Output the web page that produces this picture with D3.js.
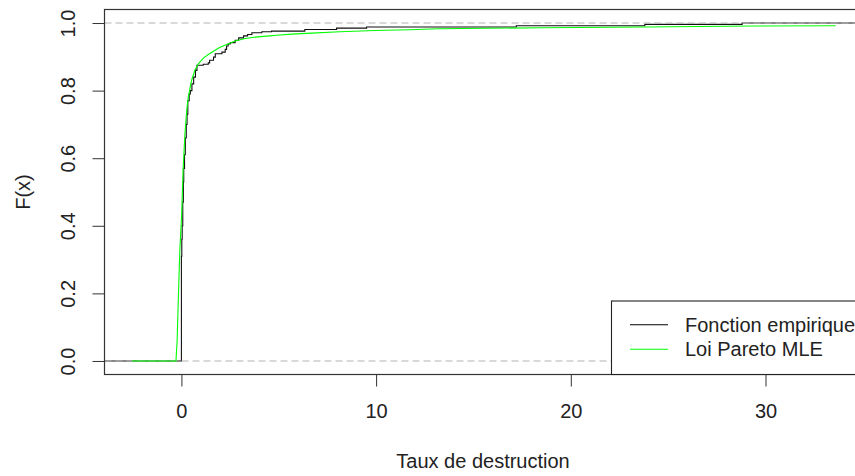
<!DOCTYPE html>
<html>
<head>
<meta charset="utf-8">
<script src="https://cdn.jsdelivr.net/npm/d3@7"></script>
<style>
  body { margin: 0; background: #fff; }
  text { font-family: "Liberation Sans", Arial, sans-serif; fill: #222; }
</style>
</head>
<body>
<svg id="svg"></svg>
<script>

const width = 855;
const height = 476;

const ecdfX = [0, 0.02, 0.04, 0.07, 0.10, 0.12, 0.16, 0.20, 0.25, 0.29, 0.33, 0.40, 0.46, 0.54, 0.63, 0.72, 0.80,
               1.12, 1.38, 1.45, 1.65, 1.74, 2.08, 2.25, 2.32, 2.40, 2.51, 2.76, 2.94, 3.19, 3.40, 3.62,
               4.13, 4.63, 6.34, 7.97, 9.51, 17.2, 23.8, 28.8];
const ecdfF = [0.31, 0.36, 0.40, 0.47, 0.53, 0.57, 0.61, 0.66, 0.70, 0.73, 0.77, 0.79, 0.80, 0.82, 0.84, 0.86, 0.875,
               0.878, 0.882, 0.890, 0.899, 0.909, 0.914, 0.922, 0.932, 0.938, 0.942, 0.949, 0.956, 0.962, 0.966, 0.971,
               0.974, 0.976, 0.981, 0.985, 0.988, 0.992, 0.996, 1.0];

// fitted Pareto CDF
const paretoX = [-2.54, -0.28, -0.22, -0.16, -0.08, 0.01, 0.09, 0.18, 0.27, 0.35, 0.52, 0.69, 0.88, 1.14, 1.46,
                 1.98, 2.42, 2.76, 3.28, 3.90, 4.55, 4.89, 5.66, 6.69, 8.14, 9.94, 11.7, 13.2, 18.6, 23.8, 29.4, 33.6];
const paretoF = [0, 0, 0.06, 0.18, 0.33, 0.43, 0.57, 0.67, 0.74, 0.78, 0.83, 0.86, 0.88, 0.897, 0.910,
                 0.928, 0.939, 0.947, 0.954, 0.959, 0.962, 0.964, 0.967, 0.970, 0.974, 0.978, 0.980, 0.983, 0.986, 0.988, 0.991, 0.992];

const xTicks = [0, 10, 20, 30];
const yTicks = [0, 0.2, 0.4, 0.6, 0.8, 1.0];
const legendLabels = ["Fonction empirique", "Loi Pareto MLE"];
const legendColors = ["#000", "#00ff00"];

const plotLeft = 104.5, plotTop = 9.5, plotBottom = 374.5;

const x = d3.scaleLinear().domain([-3.95, 35.5]).range([plotLeft, plotLeft + 39.45 * 19.47]);
const y = d3.scaleLinear().domain([-0.04, 1.04]).range([plotBottom, plotTop]);
const plotRight = x.range()[1];

const svg = d3.select("#svg")
  .attr("width", width)
  .attr("height", height);

svg.append("rect").attr("width", width).attr("height", height).attr("fill", "white");

svg.append("clipPath").attr("id", "plotclip")
  .append("rect")
  .attr("x", plotLeft).attr("y", plotTop)
  .attr("width", plotRight - plotLeft).attr("height", plotBottom - plotTop);

const plot = svg.append("g").attr("clip-path", "url(#plotclip)");

// ecdf as a step function
const ecdfPts = [[x.domain()[0], 0]].concat(ecdfX.map((d, i) => [d, ecdfF[i]]), [[x.domain()[1], 1]]);
plot.append("path")
  .attr("d", d3.line().x(d => x(d[0])).y(d => y(d[1])).curve(d3.curveStepAfter)(ecdfPts))
  .attr("fill", "none")
  .attr("stroke", "#111")
  .attr("stroke-width", 1.1);

// axes
const gx = svg.append("g")
  .attr("transform", `translate(0,${plotBottom})`)
  .call(d3.axisBottom(x).tickValues(xTicks).tickSize(12).tickSizeOuter(0));
gx.select(".domain").remove();
gx.selectAll("line").attr("stroke", "#333");
gx.selectAll("text").attr("dy", null).attr("y", 43.5)
  .style("font-size", "20px").style("font-family", "Liberation Sans, Arial, sans-serif").attr("fill", "#222");

const gy = svg.append("g")
  .attr("transform", `translate(${plotLeft},0)`)
  .call(d3.axisLeft(y).tickValues(yTicks).tickSize(12).tickSizeOuter(0).tickFormat(d3.format(".1f")));
gy.select(".domain").remove();
gy.selectAll("line").attr("stroke", "#333");
gy.selectAll("text")
  .attr("x", 0).attr("dy", null).attr("y", -29.5)
  .attr("transform", "rotate(-90)")
  .attr("text-anchor", "middle")
  .style("font-size", "20px").style("font-family", "Liberation Sans, Arial, sans-serif").attr("fill", "#222");

svg.append("rect")
  .attr("x", plotLeft).attr("y", plotTop)
  .attr("width", plotRight - plotLeft).attr("height", plotBottom - plotTop)
  .attr("fill", "none").attr("stroke", "#333").attr("stroke-width", 1.2);

svg.append("text")
  .attr("x", 483).attr("y", 468)
  .attr("text-anchor", "middle")
  .style("font-size", "20px")
  .text("Taux de destruction");

svg.append("text")
  .attr("transform", `translate(30,${(plotTop + plotBottom) / 2}) rotate(-90)`)
  .attr("text-anchor", "middle")
  .style("font-size", "20px")
  .text("F(x)");

// reference lines at 0 and 1
plot.selectAll(".ref")
  .data([0, 1])
  .enter().append("line")
  .attr("x1", plotLeft).attr("x2", plotRight)
  .attr("y1", d => y(d)).attr("y2", d => y(d))
  .attr("stroke", "#b3b3b3")
  .attr("stroke-width", 1.1)
  .attr("stroke-dasharray", "7,4");

// fitted curve
plot.append("path")
  .attr("d", d3.line().x((d, i) => x(paretoX[i])).y((d, i) => y(paretoF[i]))(paretoX))
  .attr("fill", "none")
  .attr("stroke", "#00ff00")
  .attr("stroke-width", 1.1);

// legend
const legend = svg.append("g");
legend.append("rect")
  .attr("x", 611.5).attr("y", 301)
  .attr("width", 300).attr("height", plotBottom - 301)
  .attr("fill", "white").attr("stroke", "#222").attr("stroke-width", 1.1);

legendLabels.forEach((lab, i) => {
  const ly = 324.7 + i * 24.6;
  legend.append("line")
    .attr("x1", 630).attr("x2", 668)
    .attr("y1", ly).attr("y2", ly)
    .attr("stroke", legendColors[i]).attr("stroke-width", 1.1);
  legend.append("text")
    .attr("x", 685).attr("y", ly + 7)
    .style("font-size", "20px")
    .text(lab);
});

</script>
</body>
</html>
